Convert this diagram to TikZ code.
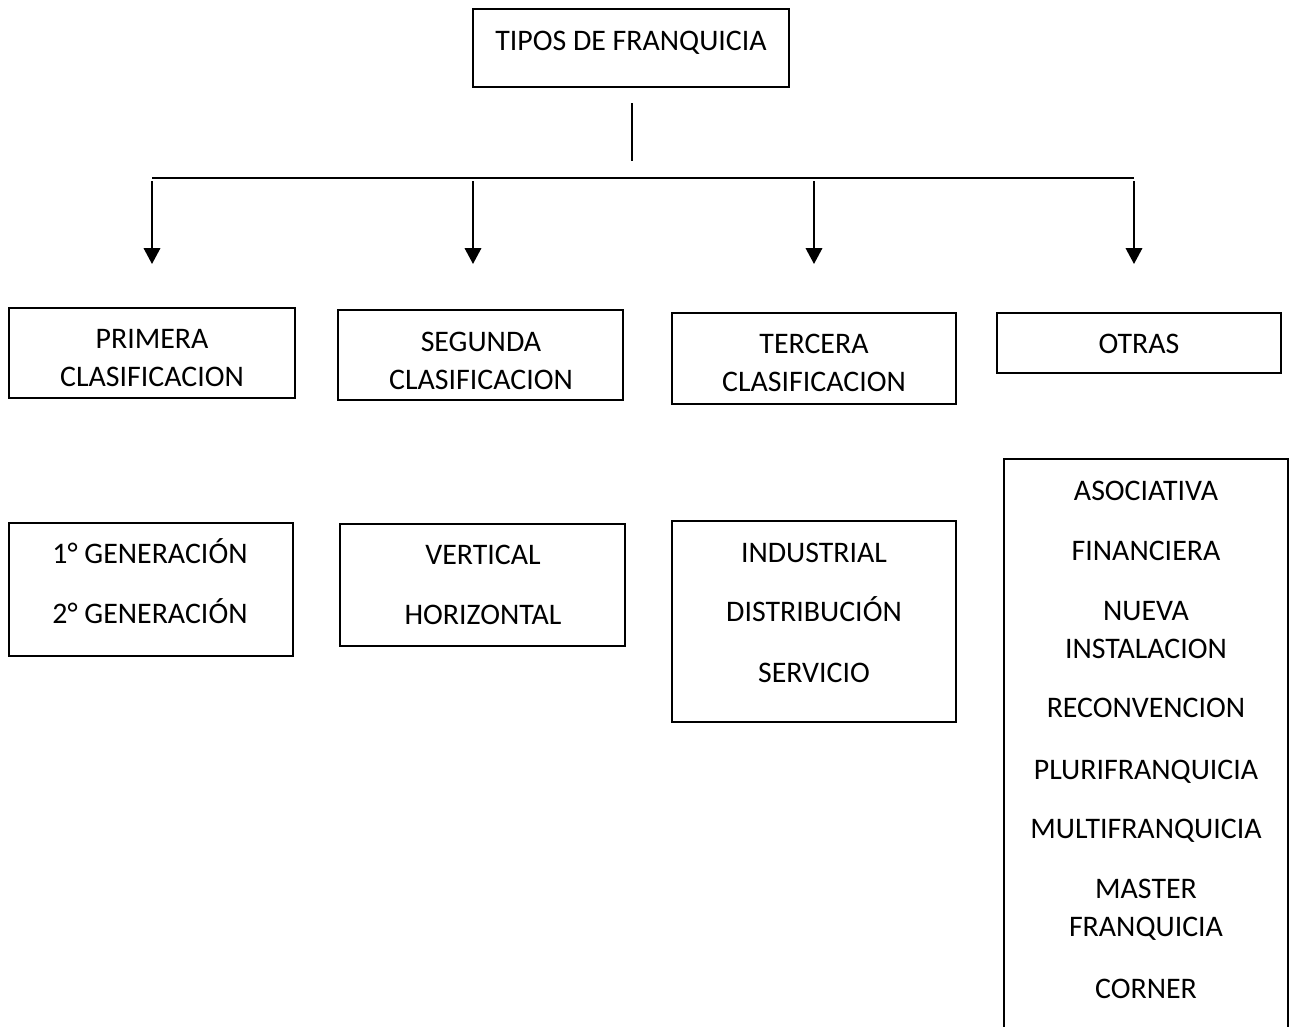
\documentclass[tikz,border=0pt]{standalone}
\usepackage{fontspec}
\setmainfont{Carlito}
\usetikzlibrary{positioning,fit,arrows.meta}

\begin{document}
\begin{tikzpicture}[x=0.365pt,y=-0.365pt,
  box/.style={draw,line width=0.9pt,inner sep=0pt},
  lbl/.style={anchor=base,inner sep=0pt,font=\fontsize{10.9}{13.9}\selectfont},
  bar/.style={line width=0.7pt},
  arr/.style={line width=0.75pt,-{Triangle[length=5.8pt,width=6pt]}}]

\useasboundingbox (0,0) rectangle (1295,1026);
\clip (0,0) rectangle (1295,1026);

\def\xa{152};
\def\xb{473};
\def\xc{814};
\def\xd{1134};

\def\ybar{178};
\def\ytop{181};
\def\ytip{264};

% boxes
\node[box,fit={(473,9) (789,87)}] (tipos) {};
\node[box,fit={(9,308) (295,398)}] (pri) {};
\node[box,fit={(338,310) (623,400)}] (seg) {};
\node[box,fit={(672,313) (956,404)}] (ter) {};
\node[box,fit={(997,313) (1281,373)}] (otr) {};
\node[box,fit={(9,523) (293,656)}] (gen) {};
\node[box,fit={(340,524) (625,646)}] (dir) {};
\node[box,fit={(672,521) (956,722)}] (sec) {};
\node[box,fit={(1004,459) (1288,1060)}] (lst) {};

% texts
\node[lbl] (tiposa) at (631,50) {TIPOS DE FRANQUICIA};

\node[lbl] (pria) at (152,348) {PRIMERA};
\node[lbl] (prib) at (152,386) {CLASIFICACION};
\node[lbl] (sega) at (481,351) {SEGUNDA};
\node[lbl] (segb) at (481,389) {CLASIFICACION};
\node[lbl] (tera) at (814,353) {TERCERA};
\node[lbl] (terb) at (814,391) {CLASIFICACION};
\node[lbl] (otra) at (1139,353) {OTRAS};

\node[lbl] (gena) at (150,563) {1° GENERACIÓN};
\node[lbl] (genb) at (150,623) {2° GENERACIÓN};
\node[lbl] (dira) at (483,564) {VERTICAL};
\node[lbl] (dirb) at (483,624) {HORIZONTAL};
\node[lbl] (seca) at (814,562) {INDUSTRIAL};
\node[lbl] (secb) at (814,621) {DISTRIBUCIÓN};
\node[lbl] (secc) at (814,682) {SERVICIO};

\node[lbl] (lsta) at (1146,500) {ASOCIATIVA};
\node[lbl] (lstb) at (1146,560) {FINANCIERA};
\node[lbl] (lstc) at (1146,620) {NUEVA};
\node[lbl] (lstd) at (1146,658) {INSTALACION};
\node[lbl] (lste) at (1146,717) {RECONVENCION};
\node[lbl] (lstf) at (1146,779) {PLURIFRANQUICIA};
\node[lbl] (lstg) at (1146,838) {MULTIFRANQUICIA};
\node[lbl] (lsth) at (1146,898) {MASTER};
\node[lbl] (lsti) at (1146,936) {FRANQUICIA};
\node[lbl] (lstj) at (1146,998) {CORNER};

% connectors
\coordinate (v1) at (632,103);
\coordinate (v2) at (632,161);
\draw[bar] (v1) -- (v2);

\coordinate (h1) at (\xa,\ybar);
\coordinate (h4) at (\xd,\ybar);
\draw[bar] (h1) -- (h4);

\coordinate (s1) at (\xa,\ytop);
\coordinate (s2) at (\xb,\ytop);
\coordinate (s3) at (\xc,\ytop);
\coordinate (s4) at (\xd,\ytop);

\coordinate (e1) at (\xa,\ytip);
\coordinate (e2) at (\xb,\ytip);
\coordinate (e3) at (\xc,\ytip);
\coordinate (e4) at (\xd,\ytip);

\draw[arr] (s1) -- (e1);
\draw[arr] (s2) -- (e2);
\draw[arr] (s3) -- (e3);
\draw[arr] (s4) -- (e4);

\end{tikzpicture}
\end{document}
